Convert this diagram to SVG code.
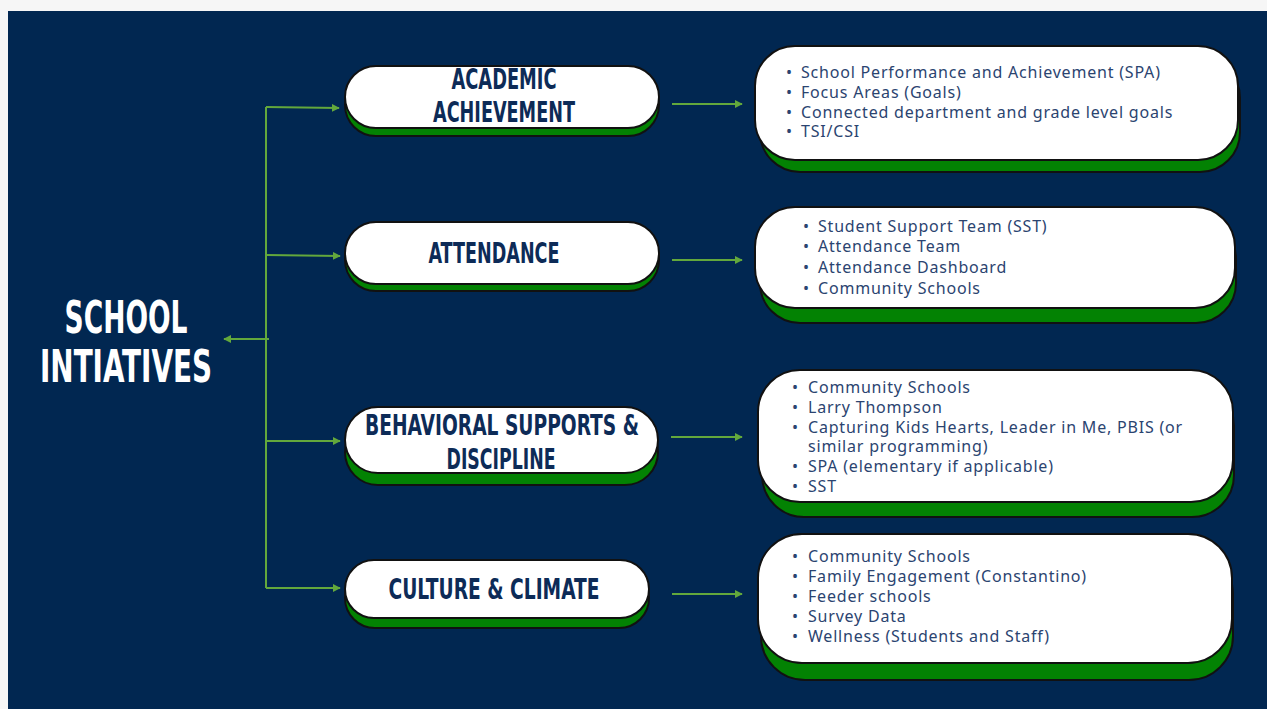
<svg xmlns="http://www.w3.org/2000/svg" width="1267" height="709" viewBox="0 0 1267 709">
<defs>
<marker id="ah" viewBox="0 0 10 10" refX="9" refY="5" markerWidth="8" markerHeight="8" orient="auto" markerUnits="userSpaceOnUse">
<path d="M0,0 L10,5 L0,10 z" fill="#63a83c"/>
</marker>
<style>
.shadow{fill:#038203;stroke:#111;stroke-width:2}
.pill{fill:#fff;stroke:#111;stroke-width:2}
.title{font-family:"DejaVu Sans",sans-serif;font-stretch:condensed;font-weight:bold;font-size:28px;fill:#0d2b57;text-anchor:middle}
.big{font-family:"DejaVu Sans",sans-serif;font-stretch:condensed;font-weight:bold;font-size:44px;fill:#fff;text-anchor:middle}
.body{font-family:"Noto Sans",sans-serif;font-size:16px;letter-spacing:0.8px;fill:#2b4470}
.con{stroke:#63a83c;stroke-width:2;fill:none}
</style>
</defs>
<rect x="0" y="0" width="1267" height="709" fill="#f6f6f6"/>
<rect x="8" y="11" width="1259" height="698" fill="#012751"/>

<g id="connectors">
<path class="con" d="M266,107 L266,588"/>
<path class="con" d="M266,107 L339,108" marker-end="url(#ah)"/>
<path class="con" d="M266,255 L340,256" marker-end="url(#ah)"/>
<path class="con" d="M266,441 L340,441" marker-end="url(#ah)"/>
<path class="con" d="M266,588 L340,588" marker-end="url(#ah)"/>
<path class="con" d="M269,339 L224,339" marker-end="url(#ah)"/>
<path class="con" d="M672,104 L742,104" marker-end="url(#ah)"/>
<path class="con" d="M672,260 L742,260" marker-end="url(#ah)"/>
<path class="con" d="M671,437 L742,437" marker-end="url(#ah)"/>
<path class="con" d="M672,594 L742,594" marker-end="url(#ah)"/>
</g>

<g id="school-initiatives">
<text class="big" x="126" y="333" textLength="123" lengthAdjust="spacingAndGlyphs">SCHOOL</text>
<text class="big" x="126" y="382" textLength="172" lengthAdjust="spacingAndGlyphs">INTIATIVES</text>
</g>

<g id="academic-achievement">
<rect class="shadow" x="345" y="74" width="314" height="62" rx="31"/>
<rect class="pill" x="345" y="66" width="314" height="62" rx="31"/>
<text class="title" x="504" y="89" textLength="105" lengthAdjust="spacingAndGlyphs">ACADEMIC</text>
<text class="title" x="504" y="122" textLength="142" lengthAdjust="spacingAndGlyphs">ACHIEVEMENT</text>
</g>

<g id="attendance">
<rect class="shadow" x="345" y="229" width="314" height="62" rx="31"/>
<rect class="pill" x="345" y="222" width="314" height="62" rx="31"/>
<text class="title" x="494" y="263" textLength="131" lengthAdjust="spacingAndGlyphs">ATTENDANCE</text>
</g>

<g id="behavioral-supports">
<rect class="shadow" x="345" y="419" width="313" height="66" rx="33"/>
<rect class="pill" x="345" y="407" width="313" height="66" rx="33"/>
<text class="title" x="502" y="435" textLength="274" lengthAdjust="spacingAndGlyphs">BEHAVIORAL SUPPORTS &amp;</text>
<text class="title" x="501" y="469" textLength="109" lengthAdjust="spacingAndGlyphs">DISCIPLINE</text>
</g>

<g id="culture-climate">
<rect class="shadow" x="345" y="568" width="304" height="60" rx="30"/>
<rect class="pill" x="345" y="560" width="304" height="58" rx="29"/>
<text class="title" x="494" y="599" textLength="211" lengthAdjust="spacingAndGlyphs">CULTURE &amp; CLIMATE</text>
</g>

<g id="academic-details">
<rect class="shadow" x="760" y="58" width="480" height="114" rx="40"/>
<rect class="pill" x="755" y="46" width="483" height="114" rx="40"/>
<g class="body">
<text x="786" y="78">•</text><text x="801" y="78">School Performance and Achievement (SPA)</text>
<text x="786" y="98">•</text><text x="801" y="98">Focus Areas (Goals)</text>
<text x="786" y="118">•</text><text x="801" y="118">Connected department and grade level goals</text>
<text x="786" y="137">•</text><text x="801" y="137">TSI/CSI</text>
</g>
</g>

<g id="attendance-details">
<rect class="shadow" x="760" y="219" width="476" height="104" rx="40"/>
<rect class="pill" x="755" y="207" width="480" height="101" rx="40"/>
<g class="body">
<text x="803" y="232">•</text><text x="818" y="232">Student Support Team (SST)</text>
<text x="803" y="252">•</text><text x="818" y="252">Attendance Team</text>
<text x="803" y="273">•</text><text x="818" y="273">Attendance Dashboard</text>
<text x="803" y="294">•</text><text x="818" y="294">Community Schools</text>
</g>
</g>

<g id="behavioral-details">
<rect class="shadow" x="762" y="384" width="472" height="133" rx="42"/>
<rect class="pill" x="758" y="370" width="475" height="132" rx="42"/>
<g class="body">
<text x="792" y="393">•</text><text x="808" y="393">Community Schools</text>
<text x="792" y="413">•</text><text x="808" y="413">Larry Thompson</text>
<text x="792" y="433">•</text><text x="808" y="433">Capturing Kids Hearts, Leader in Me, PBIS (or</text>
<text x="808" y="452">similar programming)</text>
<text x="792" y="472">•</text><text x="808" y="472">SPA (elementary if applicable)</text>
<text x="792" y="492">•</text><text x="808" y="492">SST</text>
</g>
</g>

<g id="culture-details">
<rect class="shadow" x="761" y="550" width="472" height="130" rx="44"/>
<rect class="pill" x="758" y="534" width="474" height="129" rx="44"/>
<g class="body">
<text x="792" y="562">•</text><text x="808" y="562">Community Schools</text>
<text x="792" y="582">•</text><text x="808" y="582">Family Engagement (Constantino)</text>
<text x="792" y="602">•</text><text x="808" y="602">Feeder schools</text>
<text x="792" y="622">•</text><text x="808" y="622">Survey Data</text>
<text x="792" y="642">•</text><text x="808" y="642">Wellness (Students and Staff)</text>
</g>
</g>
</svg>
